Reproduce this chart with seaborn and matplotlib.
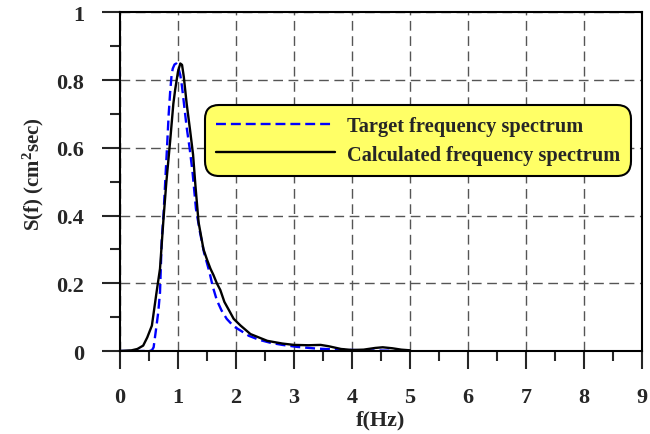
import matplotlib
matplotlib.use("Agg")
import matplotlib.pyplot as plt
import seaborn as sns
import pandas as pd

# === 1. Data ===
f_target = [0.0, 0.50, 0.55, 0.58, 0.63, 0.66, 0.69, 0.72, 0.75, 0.78, 0.81, 0.84, 0.865,
            0.89, 0.91, 0.94, 0.97, 1.00, 1.04, 1.07, 1.10, 1.15, 1.20, 1.25, 1.31, 1.38,
            1.45, 1.54, 1.60, 1.67, 1.75, 1.84, 1.96, 2.10, 2.22, 2.40, 2.60, 2.80, 3.06,
            3.40, 3.80, 4.20, 4.60, 5.00]
s_target = [0.0, 0.0, 0.002, 0.011, 0.075, 0.115, 0.173, 0.33, 0.40, 0.50, 0.598, 0.70, 0.765,
            0.815, 0.834, 0.846, 0.849, 0.84, 0.815, 0.78, 0.735, 0.66, 0.60, 0.53, 0.42, 0.35,
            0.29, 0.235, 0.19, 0.15, 0.12, 0.095, 0.073, 0.058, 0.045, 0.033, 0.024, 0.018, 0.012,
            0.007, 0.004, 0.002, 0.001, 0.0]

f_calc = [0.0, 0.20, 0.30, 0.40, 0.47, 0.55, 0.63, 0.69, 0.75, 0.80, 0.865, 0.92, 0.95,
          1.00, 1.04, 1.07, 1.10, 1.15, 1.21, 1.26, 1.30, 1.355, 1.44, 1.50, 1.56, 1.61,
          1.67, 1.73, 1.80, 1.90, 1.96, 2.08, 2.25, 2.54, 2.80, 3.00, 3.25, 3.46, 3.60,
          3.81, 4.00, 4.20, 4.40, 4.53, 4.70, 4.85, 5.00]
s_calc = [0.0, 0.002, 0.006, 0.016, 0.04, 0.075, 0.173, 0.243, 0.39, 0.50, 0.62, 0.73, 0.77,
          0.825, 0.849, 0.845, 0.81, 0.73, 0.65, 0.58, 0.49, 0.38, 0.30, 0.27, 0.243, 0.225,
          0.20, 0.18, 0.145, 0.114, 0.095, 0.075, 0.05, 0.03, 0.022, 0.018, 0.017, 0.018, 0.014,
          0.006, 0.003, 0.004, 0.009, 0.011, 0.008, 0.004, 0.002]

x_ticks = [0, 1, 2, 3, 4, 5, 6, 7, 8, 9]
y_ticks = [0, 0.2, 0.4, 0.6, 0.8, 1.0]
y_tick_labels = ["0", "0.2", "0.4", "0.6", "0.8", "1"]

df_target = pd.DataFrame({"f": f_target, "S": s_target})
df_calc = pd.DataFrame({"f": f_calc, "S": s_calc})

# === 2. Style ===
sns.set_style("ticks")
plt.rcParams["font.family"] = ["Liberation Serif", "DejaVu Serif"]
plt.rcParams["font.weight"] = "bold"
plt.rcParams["mathtext.fontset"] = "custom"
plt.rcParams["mathtext.bf"] = "Liberation Serif:bold"
plt.rcParams["mathtext.rm"] = "Liberation Serif:bold"
plt.rcParams["mathtext.default"] = "bf"

fig = plt.figure(figsize=(6.5, 4.35), dpi=100)
ax = fig.add_axes([0.1846, 0.1908, 0.803, 0.7785])

# === 3. Curves ===
sns.lineplot(data=df_target, x="f", y="S", ax=ax, color="#0000FF", lw=1.7,
             dashes=False, label="Target frequency spectrum", sort=False)
sns.lineplot(data=df_calc, x="f", y="S", ax=ax, color="black", lw=1.7,
             label="Calculated frequency spectrum", sort=False)
ax.lines[0].set_dashes((4.2, 2.1))

# === 4. Axes ===
ax.set_xlim(0, 9)
ax.set_ylim(0, 1)
ax.set_xticks(x_ticks)
ax.set_xticks([v + 0.5 for v in x_ticks[:-1]], minor=True)
ax.set_yticks(y_ticks)
ax.set_yticklabels(y_tick_labels)
ax.set_yticks([v + 0.1 for v in y_ticks[:-1]], minor=True)
ax.tick_params(which="major", direction="out", length=13, width=1.5, pad=13, labelsize=16)
ax.tick_params(which="minor", direction="out", length=7, width=1.5)
for sp in ax.spines.values():
    sp.set_visible(True)
    sp.set_linewidth(1.5)
    sp.set_color("black")

ax.grid(True, which="major", color="#555555", lw=1.0, ls=(0, (7, 4)))
ax.set_xlabel("f(Hz)", fontsize=16, fontweight="bold", labelpad=2)
ax.set_ylabel("S(f) (cm$^2$sec)", fontsize=15, fontweight="bold", labelpad=7)
ax.yaxis.label.set_y(0.525)

# === 5. Legend ===
leg = ax.legend(loc="upper left", bbox_to_anchor=(0.163, 0.726), borderaxespad=0,
                fancybox=True, facecolor="#FFFF66", edgecolor="black", framealpha=1,
                handlelength=5.8, handletextpad=0.6, borderpad=0.55, labelspacing=0.4,
                prop={"family": "Liberation Serif", "weight": "bold", "size": 14.7})
leg.get_frame().set_linewidth(1.5)
leg.get_frame().set_boxstyle("round,pad=0,rounding_size=0.7")

fig.savefig("out.png", dpi=100)
